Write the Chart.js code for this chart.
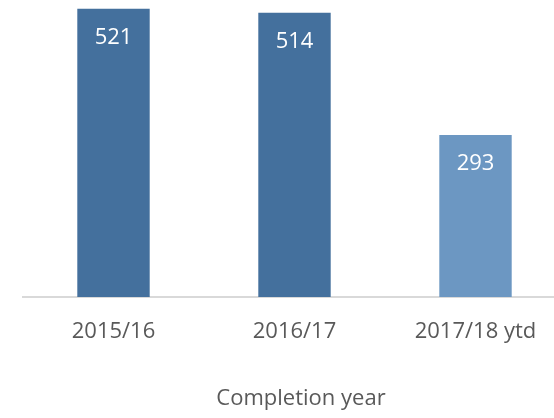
<!DOCTYPE html>
<html>
<head>
<meta charset="utf-8">
<script src="https://cdn.jsdelivr.net/npm/chart.js@4/dist/chart.umd.min.js"></script>
<style>
    html, body { margin: 0; padding: 0; background: #fff; overflow: hidden; }
    #wrap { width: 566px; height: 418px; }
</style>
</head>
<body>
<div id="wrap"><canvas id="barChart"></canvas></div>
<script>
const categories = ['2015/16', '2016/17', '2017/18 ytd'];
const completions = [521, 514, 293];
const barColors = ['#44709d', '#44709d', '#6c97c2'];
const xTitle = 'Completion year';

const FONT = '"Open Sans", "Noto Sans", sans-serif';

// values written inside the top of each bar
const valueLabels = {
    id: 'valueLabels',
    afterDatasetsDraw(chart) {
        const ctx = chart.ctx;
        const meta = chart.getDatasetMeta(0);
        ctx.save();
        ctx.fillStyle = '#ffffff';
        ctx.font = '22px ' + FONT;
        ctx.textAlign = 'center';
        ctx.textBaseline = 'middle';
        meta.data.forEach((bar, i) => {
            ctx.fillText(String(completions[i]), bar.x, bar.y + 29);
        });
        ctx.restore();
    }
};

// axis title, sits a little right of the plot centre like the original
const axisTitle = {
    id: 'axisTitle',
    afterDraw(chart) {
        const ctx = chart.ctx;
        ctx.save();
        ctx.fillStyle = '#595959';
        ctx.font = '22px ' + FONT;
        ctx.textAlign = 'center';
        ctx.textBaseline = 'middle';
        ctx.fillText(xTitle, 301, 399);
        ctx.restore();
    }
};

new Chart(document.getElementById('barChart').getContext('2d'), {
    type: 'bar',
    data: {
        labels: categories,
        datasets: [{
            data: completions,
            backgroundColor: barColors,
            borderWidth: 0,
            barPercentage: 0.4,
            categoryPercentage: 1
        }]
    },
    options: {
        responsive: true,
        maintainAspectRatio: false,
        animation: false,
        layout: { padding: { left: 23, right: 0, top: 0, bottom: 0 } },
        plugins: {
            legend: { display: false },
            tooltip: { enabled: false }
        },
        scales: {
            y: {
                display: false,
                min: 0,
                max: 537
            },
            x: {
                grid: { display: false, drawTicks: false },
                border: { display: true, color: '#d9d9d9', width: 2 },
                ticks: {
                    color: '#595959',
                    padding: 22,
                    font: { family: FONT, size: 22 }
                },
                afterFit(scale) { scale.height = 121; }
            }
        }
    },
    plugins: [valueLabels, axisTitle]
});
</script>
</body>
</html>
